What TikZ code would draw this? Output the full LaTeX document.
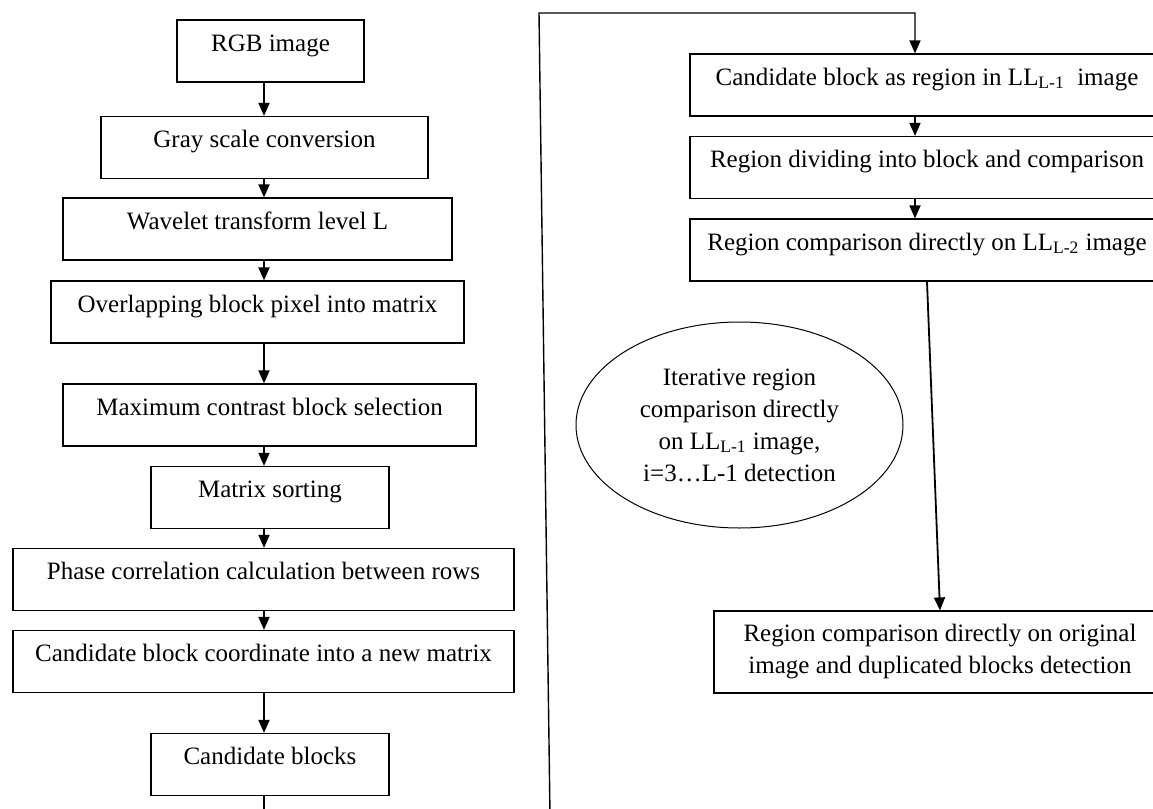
\documentclass[tikz,border=0pt]{standalone}
\usepackage{fontspec}
\setmainfont{Liberation Serif}
\usetikzlibrary{shapes.geometric,arrows.meta}

\begin{document}
\begin{tikzpicture}[x=0.5pt,y=-0.5pt,>={Triangle[length=6.5pt,width=5.5pt]},
  font=\fontsize{12.5pt}{16pt}\selectfont,
  stepbox/.style={draw,line width=0.6pt,rectangle,inner xsep=0pt,inner ysep=0pt,text height=15.5pt,text depth=15.5pt},
  twobox/.style={draw,line width=0.6pt,rectangle,inner sep=0pt,align=center},
  loopnode/.style={draw,line width=0.5pt,ellipse,inner sep=0pt,align=center},
  flow/.style={->,line width=0.9pt}]

    \useasboundingbox (0,0) rectangle (1153,809);

    % Left column
	\node [stepbox,minimum width=93.5pt] at (270.5,51) (rgb) {RGB image};
	\node [stepbox,minimum width=163.5pt] at (264.5,147.5) (gray) {Gray scale conversion};
	\node [stepbox,minimum width=194.5pt] at (257.5,229) (wav) {Wavelet transform level L};
	\node [stepbox,minimum width=206.5pt] at (257.5,312) (ovl) {Overlapping block pixel into matrix};
	\node [stepbox,minimum width=206.5pt] at (269.5,415) (maxc) {Maximum contrast block selection};
	\node [stepbox,minimum width=119pt] at (270,497.5) (sort) {Matrix sorting};
	\node [stepbox,minimum width=250.5pt] at (263.5,579.5) (phase) {Phase correlation calculation between rows};
	\node [stepbox,minimum width=250.5pt] at (263.5,661.5) (coord) {Candidate block coordinate into a new matrix};
	\node [stepbox,minimum width=119pt] at (270,764.5) (cand) {Candidate blocks};

    % Right column
	\node [stepbox,minimum width=237pt] at (927,85) (reg1) {Candidate block as region in LL\textsubscript{L-1}\ \ image};
	\node [stepbox,minimum width=237pt] at (927,167.5) (reg2) {Region dividing into block and comparison};
	\node [stepbox,minimum width=237pt] at (927,250) (reg3) {Region comparison directly on LL\textsubscript{L-2} image};
	\node [twobox,minimum width=226pt,minimum height=41pt] at (940,652) (orig) {Region comparison directly on original\\image and duplicated blocks detection};
	\node [loopnode,minimum width=163.5pt,minimum height=103pt] at (739.5,425) (iter) {Iterative region\\comparison directly\\on LL\textsubscript{L-1} image,\\i=3…L-1 detection};

	\coordinate (lx) at (264,0);
	\coordinate (rx) at (915,0);
	\coordinate (candend) at (264,815);
	\coordinate (loopstart) at (550,815);
	\coordinate (loopcorner) at (539,13);

	% Left edges
	\path[flow]
	(rgb.south -| lx) edge (gray.north -| lx)
	(gray.south -| lx) edge (wav.north -| lx)
	(wav.south -| lx) edge (ovl.north -| lx)
	(ovl.south -| lx) edge (maxc.north -| lx)
	(maxc.south -| lx) edge (sort.north -| lx)
	(sort.south -| lx) edge (phase.north -| lx)
	(phase.south -| lx) edge (coord.north -| lx)
	(coord.south -| lx) edge (cand.north -| lx);
	\draw[line width=0.9pt] (cand.south -| candend) -- (candend);

	% Loop back and right edges
	\draw[flow,line width=0.7pt] (loopstart) -- (loopcorner) -- (loopcorner -| rx) -- (reg1.north -| rx);
	\path[flow]
	(reg1.south -| rx) edge (reg2.north -| rx)
	(reg2.south -| rx) edge (reg3.north -| rx)
	(reg3.south) edge (orig.north);

\end{tikzpicture}
\end{document}
